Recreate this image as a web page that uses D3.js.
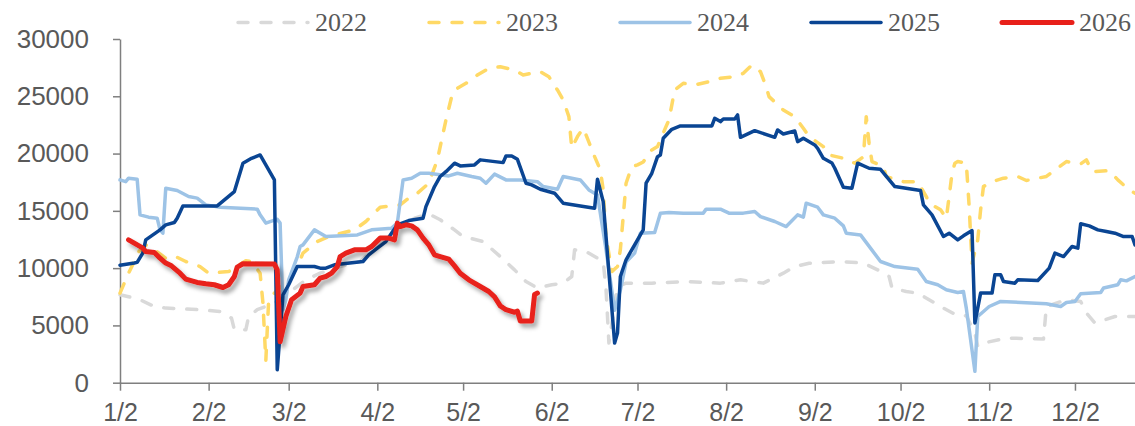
<!DOCTYPE html>
<html>
<head>
<meta charset="utf-8">
<script src="https://d3js.org/d3.v7.min.js"></script>
<style>
  body { margin: 0; background: #fff; }
  svg { display: block; }
  .axis text { font-family: "Liberation Sans", Arial, sans-serif; font-size: 26px; fill: #595959; }
  .axis.x text { font-size: 25px; }
  .axis path, .axis line { stroke: #7f7f7f; stroke-width: 1.5; }
  .legend text { font-family: "Liberation Serif", "Times New Roman", serif; font-size: 26px; fill: #595959; }
</style>
</head>
<body>
<div id="chart"></div>
<script>
// series (month/day, value)
var y2022 = [["1/2",7670],["1/7",7390],["1/9",7240],["1/14",6650],["1/18",6510],["1/30",6370],["2/6",6220],["2/10",5640],["2/11",4620],["2/15",4620],["2/16",5780],["2/19",6370],["2/25",6950],["3/2",7820],["3/8",8980],["3/13",9560],["3/20",10140],["3/27",10580],["4/4",12470],["4/10",13630],["4/15",14360],["4/20",14740],["4/24",14220],["4/29",13340],["5/2",12760],["5/9",12320],["5/15",11010],["5/20",9850],["5/24",8830],["5/28",8260],["6/2",8550],["6/6",8690],["6/9",9270],["6/10",11600],["6/14",11450],["6/20",10580],["6/21",8110],["6/22",3460],["6/25",8400],["6/28",8690],["7/7",8690],["7/19",8830],["7/31",8690],["8/7",8980],["8/15",8690],["8/22",9560],["8/26",10140],["8/31",10430],["9/11",10580],["9/19",10440],["9/24",9850],["9/28",9270],["9/29",8260],["10/4",7960],["10/8",7820],["10/14",6950],["10/17",6510],["10/22",5840],["10/25",5840],["10/28",4330],["10/29",3170],["10/31",3460],["11/8",3900],["11/21",3810],["11/22",6650],["11/29",7240],["12/4",7090],["12/6",6080],["12/9",5210],["12/16",5780],["12/23",5780]];

var y2023 = [["1/2",7820],["1/5",9560],["1/7",10580],["1/8",11310],["1/11",12030],["1/14",11600],["1/18",10870],["1/21",11070],["1/25",10580],["1/30",10140],["2/2",9560],["2/9",9700],["2/15",10640],["2/17",10580],["2/20",9560],["2/21",6950],["2/22",1920],["2/23",7240],["2/26",8110],["3/2",8980],["3/5",10140],["3/7",11310],["3/12",12320],["3/16",12760],["3/25",13340],["3/29",14070],["4/3",15320],["4/10",15520],["4/13",16110],["4/16",16540],["4/20",17410],["4/23",19450],["4/24",20610],["4/26",22930],["4/28",24970],["4/29",25550],["5/3",26130],["5/7",26860],["5/11",27440],["5/15",27580],["5/20",27290],["5/23",26860],["5/29",27150],["6/1",26710],["6/4",25550],["6/6",24680],["6/8",23220],["6/9",20490],["6/11",21480],["6/13",22210],["6/14",21630],["6/17",19730],["6/19",18570],["6/20",16830],["6/21",12760],["6/23",9700],["6/25",10140],["6/26",11600],["6/27",14500],["6/28",17410],["6/30",18860],["7/2",19010],["7/4",19270],["7/7",20320],["7/9",20610],["7/12",22370],["7/13",22930],["7/15",25550],["7/18",26130],["7/22",25990],["7/27",26280],["7/31",26570],["8/5",26710],["8/8",27000],["8/11",27730],["8/14",27150],["8/16",25840],["8/17",24970],["8/22",23800],["8/26",23220],["8/29",22210],["8/31",21480],["9/5",20610],["9/7",19880],["9/12",19590],["9/16",19160],["9/19",19710],["9/20",23220],["9/21",20900],["9/22",19300],["9/26",18860],["9/27",17990],["10/3",17550],["10/8",17550],["10/11",16250],["10/12",15670],["10/16",15090],["10/18",14360],["10/19",16250],["10/20",18280],["10/21",19160],["10/22",19300],["10/25",19160],["10/26",15370],["10/27",10440],["10/29",12470],["10/30",15090],["10/31",17120],["11/3",17550],["11/7",17850],["11/12",18000],["11/15",17650],["11/22",18000],["11/25",18570],["11/29",19300],["12/4",19100],["12/6",19450],["12/8",18420],["12/14",18510],["12/17",17700],["12/21",16830],["12/23",16540]];

var y2024 = [["1/2",17700],["1/4",17550],["1/5",17850],["1/8",17760],["1/9",14650],["1/12",14450],["1/15",14360],["1/16",13340],["1/17",13050],["1/18",16980],["1/22",16770],["1/26",16250],["1/29",16110],["2/1",15520],["2/6",15320],["2/19",15150],["2/20",14650],["2/22",13930],["2/26",14270],["2/27",13930],["2/28",6370],["3/1",7240],["3/2",8980],["3/5",10990],["3/6",11890],["3/7",12030],["3/11",13340],["3/15",12760],["3/26",12900],["3/31",13340],["4/7",13490],["4/9",13930],["4/11",17700],["4/14",17850],["4/17",18280],["4/20",18280],["4/27",18050],["4/30",18280],["5/5",18000],["5/8",17850],["5/10",17410],["5/13",18210],["5/17",17700],["5/22",17700],["5/28",17550],["5/30",17120],["6/4",16890],["6/6",18000],["6/12",17700],["6/15",16830],["6/18",16390],["6/21",11600],["6/24",6330],["6/26",8080],["6/28",10530],["7/1",11310],["7/3",13050],["7/8",13110],["7/10",14800],["7/13",14850],["7/18",14800],["7/25",14800],["7/26",15150],["7/31",15150],["8/3",14800],["8/8",14800],["8/12",14940],["8/14",14500],["8/19",14070],["8/23",13630],["8/27",14650],["8/29",14450],["8/30",15670],["9/3",15320],["9/5",14650],["9/9",14360],["9/12",13690],["9/13",13050],["9/18",12900],["9/25",10580],["9/30",10140],["10/8",9910],["10/11",8830],["10/15",8550],["10/18",8110],["10/22",7870],["10/24",7960],["10/25",6510],["10/28",990],["10/29",5780],["11/2",6650],["11/6",7090],["11/22",6890],["11/27",6650],["11/29",7000],["12/2",7090],["12/4",7760],["12/11",7870],["12/12",8260],["12/17",8550],["12/18",8980],["12/20",8890],["12/23",9270]];

var y2025 = [["1/2",10250],["1/7",10450],["1/8",10500],["1/10",11330],["1/11",12470],["1/13",12820],["1/16",13340],["1/18",13780],["1/21",13980],["1/22",14360],["1/24",15430],["2/5",15430],["2/11",16680],["2/14",19160],["2/17",19590],["2/20",19880],["2/22",19010],["2/25",17700],["2/26",1130],["2/28",7670],["3/2",8550],["3/5",10140],["3/11",10140],["3/13",10000],["3/15",10000],["3/18",10290],["3/28",10580],["3/30",11160],["4/2",11740],["4/5",12320],["4/9",13780],["4/13",14150],["4/18",14360],["4/19",15370],["4/22",17120],["4/24",18000],["4/26",18420],["4/29",19160],["5/1",18920],["5/6",19010],["5/8",19450],["5/16",19210],["5/17",19790],["5/19",19790],["5/21",19500],["5/24",17410],["5/26",17270],["5/29",16890],["6/3",16540],["6/6",15670],["6/12",15430],["6/17",15230],["6/18",17760],["6/20",15810],["6/24",3460],["6/25",4330],["6/26",9270],["6/28",10730],["7/2",12470],["7/4",13340],["7/5",17410],["7/7",18280],["7/9",19730],["7/10",19880],["7/11",21340],["7/14",22120],["7/17",22410],["7/28",22410],["7/29",23080],["7/31",22790],["8/1",23020],["8/5",23020],["8/6",23370],["8/7",21420],["8/12",22000],["8/19",21420],["8/20",22060],["8/22",21710],["8/26",21970],["8/27",21040],["8/29",21340],["9/2",20750],["9/3",20460],["9/5",19590],["9/8",19180],["9/9",18720],["9/12",17060],["9/15",16980],["9/17",19160],["9/21",18720],["9/25",18630],["9/30",17120],["10/9",16770],["10/10",15520],["10/13",14650],["10/17",12760],["10/19",13050],["10/22",12470],["10/24",12820],["10/27",13280],["10/28",5210],["10/30",7820],["11/3",7820],["11/4",9420],["11/6",9420],["11/7",8830],["11/11",8690],["11/12",8980],["11/19",8920],["11/23",10000],["11/25",11310],["11/28",11010],["12/1",11890],["12/3",11740],["12/4",13870],["12/7",13690],["12/10",13340],["12/13",13190],["12/16",13050],["12/19",12760],["12/22",12760],["12/23",12030]];

var y2026 = [["1/5",12470],["1/7",12180],["1/10",11740],["1/11",11450],["1/14",11360],["1/16",10870],["1/18",10440],["1/20",10200],["1/23",9560],["1/25",9040],["1/29",8750],["2/1",8630],["2/4",8550],["2/7",8310],["2/9",8550],["2/11",9270],["2/12",10090],["2/14",10380],["2/25",10350],["2/26",9850],["2/27",3570],["3/1",5780],["3/3",7240],["3/6",7820],["3/7",8400],["3/11",8550],["3/13",9130],["3/15",9270],["3/17",9560],["3/19",10140],["3/20",11010],["3/22",11310],["3/25",11600],["3/29",11600],["3/31",11890],["4/3",12620],["4/6",12620],["4/8",12470],["4/9",13930],["4/10",13630],["4/12",13780],["4/14",13690],["4/16",13340],["4/18",12620],["4/20",12030],["4/22",11160],["4/24",11010],["4/27",10780],["4/29",10200],["5/1",9560],["5/4",8980],["5/8",8400],["5/11",7960],["5/13",7490],["5/15",6700],["5/17",6370],["5/20",6150],["5/21",6250],["5/22",5390],["5/26",5390],["5/27",7700],["5/28",7820]];

var years = ["2022", "2023", "2024", "2025", "2026"];
var xTickLabels = ["1/2","2/2","3/2","4/2","5/2","6/2","7/2","8/2","9/2","10/2","11/2","12/2"];
var yTickValues = [0, 5000, 10000, 15000, 20000, 25000, 30000];

// styling per series
var seriesData = [y2022, y2023, y2024, y2025, y2026];
var styles = [
  {color: "#d9d9d9", width: 3.5, dash: "10,13"},
  {color: "#ffd966", width: 3.5, dash: "10,13"},
  {color: "#9dc3e6", width: 3.5, dash: null},
  {color: "#0a4593", width: 3.5, dash: null},
  {color: "#e8201a", width: 5,   dash: null, shadow: true}
];

var W = 1135, H = 426;

function parseMD(s) {
  var p = s.split("/");
  return new Date(2025, +p[0] - 1, +p[1]);
}

var svg = d3.select("#chart").append("svg")
  .attr("width", W).attr("height", H);

var defs = svg.append("defs");
var f = defs.append("filter").attr("id", "shadow")
  .attr("x", "-5%").attr("y", "-5%").attr("width", "115%").attr("height", "130%");
f.append("feDropShadow")
  .attr("dx", 3).attr("dy", 4).attr("stdDeviation", 2.2)
  .attr("flood-color", "#000").attr("flood-opacity", 0.35);

var x = d3.scaleTime()
  .domain([parseMD("1/2"), parseMD("12/23")])
  .range([120, 1135]);

var y = d3.scaleLinear()
  .domain([0, 30000])
  .range([382.7, 39]);

// axes
var xAxis = d3.axisBottom(x)
  .tickValues(xTickLabels.map(parseMD))
  .tickFormat(function(d, i) { return xTickLabels[i]; })
  .tickSize(8).tickSizeOuter(0).tickPadding(12.5);

var yAxis = d3.axisLeft(y)
  .tickValues(yTickValues)
  .tickFormat(function(d) { return String(d); })
  .tickSize(7).tickSizeOuter(0).tickPadding(24);

svg.append("g").attr("class", "axis x")
  .attr("transform", "translate(0," + y(0) + ")")
  .call(xAxis);

svg.append("g").attr("class", "axis y")
  .attr("transform", "translate(" + x(parseMD("1/2")) + ",0)")
  .call(yAxis);

// lines
var line = d3.line()
  .x(function(d) { return x(parseMD(d[0])); })
  .y(function(d) { return y(d[1]); });

seriesData.forEach(function(data, i) {
  var st = styles[i];
  var p = svg.append("path")
    .attr("d", line(data))
    .attr("fill", "none")
    .attr("stroke", st.color)
    .attr("stroke-width", st.width)
    .attr("stroke-linejoin", "round")
    .attr("stroke-linecap", "round");
  if (st.dash) p.attr("stroke-dasharray", st.dash);
  if (st.shadow) p.attr("filter", "url(#shadow)");
});

// legend
var legend = svg.append("g").attr("class", "legend");
years.forEach(function(yr, i) {
  var st = styles[i];
  var lx = 238 + i * 191;
  var seg = legend.append("line")
    .attr("x1", lx).attr("x2", lx + 70)
    .attr("y1", 22.5).attr("y2", 22.5)
    .attr("stroke", st.color)
    .attr("stroke-width", st.width)
    .attr("stroke-linecap", "round");
  if (st.dash) seg.attr("stroke-dasharray", st.dash);
  legend.append("text")
    .attr("x", lx + 77).attr("y", 31)
    .text(yr);
});
</script>
</body>
</html>
